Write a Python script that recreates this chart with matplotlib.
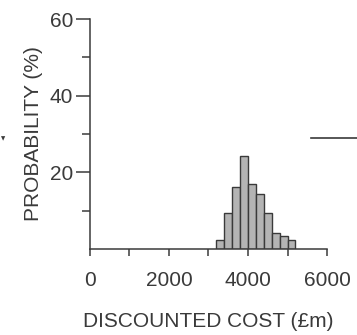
import matplotlib.pyplot as plt
import numpy as np
from matplotlib.lines import Line2D

plt.rcParams['font.family'] = ['Liberation Sans', 'DejaVu Sans']

# histogram bins (£m) and probability (%)
bin_edges = [3200, 3400, 3600, 3800, 4000, 4200, 4400, 4600, 4800, 5000, 5200]
probability = [2.2, 9.4, 16.2, 24.2, 17.0, 14.3, 9.3, 4.2, 3.4, 2.2]

x_ticks = [0, 2000, 4000, 6000]
y_ticks = [20, 40, 60]

ink = '#3a3a3a'
fs = 15

fig = plt.figure(figsize=(3.57, 3.35), dpi=100)
ax = fig.add_axes([0.252, 0.257, 0.664, 0.686])

lefts = np.array(bin_edges[:-1])
widths = np.diff(bin_edges)
ax.bar(lefts, probability, width=widths, align='edge',
       color='#b4b4b4', edgecolor=ink, linewidth=1.0)

ax.set_xlim(0, 6000)
ax.set_ylim(0, 60)
for s in ['top', 'right']:
    ax.spines[s].set_visible(False)
for s in ['left', 'bottom']:
    ax.spines[s].set_color(ink)
    ax.spines[s].set_linewidth(1.1)

ax.set_xticks(x_ticks)
ax.set_xticks([1000, 3000, 5000], minor=True)
ax.set_yticks(y_ticks)
ax.set_yticks([10, 30, 50], minor=True)
ax.tick_params(axis='x', which='both', length=5, width=1.1, color=ink,
               labelsize=fs, labelcolor=ink, pad=11)
ax.tick_params(axis='y', which='major', length=10, width=1.1, color=ink,
               labelsize=fs, labelcolor=ink, pad=2)
ax.tick_params(axis='y', which='minor', length=6, width=1.1, color=ink)

ax.set_xlabel('DISCOUNTED COST (£m)', fontsize=fs, color=ink, labelpad=16)
ax.set_ylabel('PROBABILITY (%)', fontsize=fs, color=ink, labelpad=5)

# fragments of neighbouring panels
fig.add_artist(Line2D([311 / 357, 1.0], [1 - 138 / 335] * 2,
                      transform=fig.transFigure, color=ink, lw=1.2))
fig.text(3 / 357, 1 - 139 / 335, '▼', fontsize=4, color=ink,
         ha='center', va='center', family='DejaVu Sans')

fig.savefig('out.png', dpi=100)
